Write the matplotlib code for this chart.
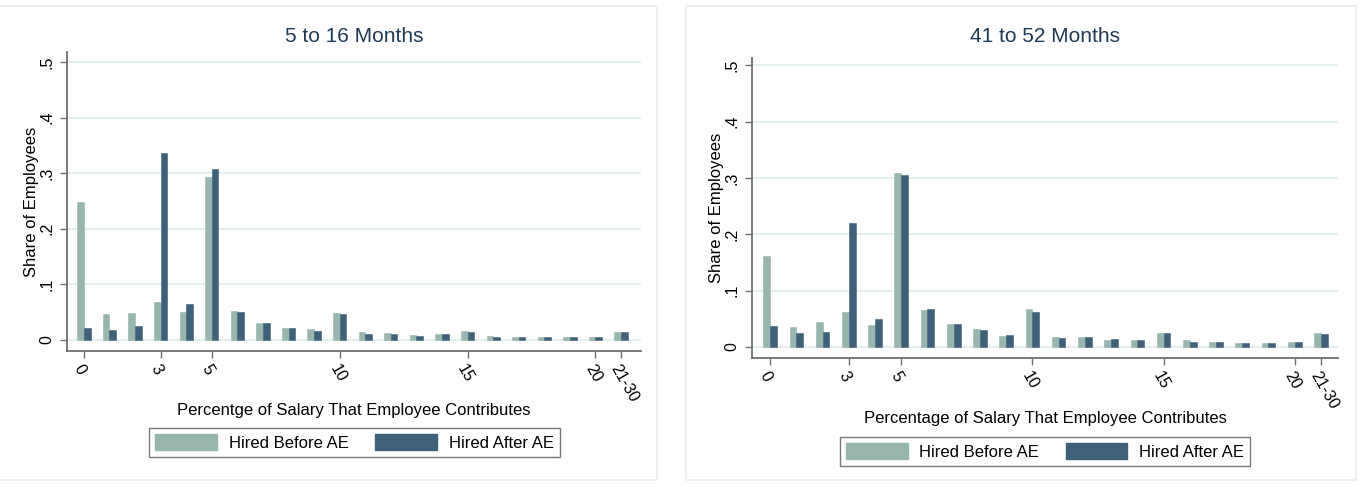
import matplotlib
matplotlib.use('Agg')
import matplotlib.pyplot as plt
import numpy as np
from matplotlib.patches import Rectangle, Patch

plt.rcParams['font.family'] = ['Liberation Sans', 'DejaVu Sans']

# categories: contribution rate 0..20 and a pooled 21-30 bin
categories = [str(i) for i in range(21)] + ['21-30']
tick_show = ['0', '3', '5', '10', '15', '20', '21-30']

# 5 to 16 months
early_before = [0.248, 0.047, 0.048, 0.069, 0.051, 0.293, 0.053, 0.031, 0.021, 0.019, 0.048,
                0.014, 0.013, 0.009, 0.011, 0.016, 0.008, 0.006, 0.005, 0.005, 0.005, 0.014]
early_after = [0.021, 0.018, 0.026, 0.337, 0.065, 0.308, 0.050, 0.031, 0.021, 0.017, 0.046,
               0.011, 0.011, 0.008, 0.010, 0.014, 0.006, 0.005, 0.005, 0.005, 0.005, 0.014]

# 41 to 52 months
late_before = [0.161, 0.036, 0.044, 0.062, 0.039, 0.308, 0.065, 0.041, 0.032, 0.020, 0.067,
               0.018, 0.017, 0.012, 0.0125, 0.024, 0.0125, 0.009, 0.007, 0.007, 0.009, 0.024]
late_after = [0.037, 0.024, 0.026, 0.220, 0.049, 0.306, 0.067, 0.041, 0.031, 0.021, 0.0625,
              0.016, 0.017, 0.014, 0.0125, 0.024, 0.009, 0.009, 0.007, 0.007, 0.009, 0.023]

c_before = '#98b5ae'
c_after = '#3e6079'
grid_c = '#e6eef1'
axis_c = '#6e6e6e'

W, H = 1363, 487
fig = plt.figure(figsize=(W / 100, H / 100), dpi=100)

# faint panel frames (two separate Stata graphs side by side)
for (x0, y0, x1, y1) in [(-2, 6, 657, 480), (686, 6, 1356, 480)]:
    fig.patches.append(Rectangle((x0 / W, 1 - y1 / H), (x1 - x0) / W, (y1 - y0) / H,
                                 transform=fig.transFigure, fill=False,
                                 edgecolor='#e8eef0', linewidth=1.2))


def px_axes(x0, x1, ytop, ybot):
    return fig.add_axes([x0 / W, 1 - ybot / H, (x1 - x0) / W, (ybot - ytop) / H])


def panel(ax, before, after, title, xlabel, xlim, ylim, title_y, xlabel_y, leg_x, leg_y):
    x = np.arange(len(categories))
    w = 0.26
    ax.bar(x - w / 2, before, width=w, color=c_before, edgecolor=c_before, linewidth=0.4)
    ax.bar(x + w / 2, after, width=w, color=c_after, edgecolor=c_after, linewidth=0.4)
    ax.set_xlim(*xlim)
    ax.set_ylim(*ylim)
    yt = [0, 0.1, 0.2, 0.3, 0.4, 0.5]
    ax.set_yticks(yt)
    ax.set_yticklabels(['0', '.1', '.2', '.3', '.4', '.5'], rotation=90, va='center', fontsize=11.5)
    for v in yt:
        ax.axhline(v, color=grid_c, linewidth=1.6, zorder=0)
    pos = [categories.index(t) for t in tick_show]
    ax.set_xticks(pos)
    ax.set_xticklabels(tick_show, rotation=-60, ha='left', va='top', rotation_mode='anchor',
                       fontsize=11.5)
    ax.tick_params(axis='both', color=axis_c, length=5, width=1)
    ax.tick_params(axis='y', pad=4)
    ax.tick_params(axis='x', pad=3)
    for s in ['top', 'right']:
        ax.spines[s].set_visible(False)
    for s in ['left', 'bottom']:
        ax.spines[s].set_color(axis_c)
        ax.spines[s].set_linewidth(1.3)
    ax.set_ylabel('Share of Employees', fontsize=12, labelpad=0)
    bb = ax.get_position()
    cx = (bb.x0 + bb.x1) / 2
    fig.text(cx, 1 - title_y / H, title, ha='center', va='center', fontsize=15, color='#1e3a56')
    fig.text(cx, 1 - xlabel_y / H, xlabel, ha='center', va='center', fontsize=12)
    handles = [Patch(facecolor=c_before, edgecolor=c_before, label='Hired Before AE'),
               Patch(facecolor=c_after, edgecolor=c_after, label='Hired After AE')]
    leg = fig.legend(handles=handles, loc='upper center', ncol=2,
                     bbox_to_anchor=(leg_x / W, 1 - leg_y / H), frameon=True, fancybox=False,
                     fontsize=12, handlelength=3.7, handleheight=1.1, columnspacing=1.6,
                     handletextpad=0.7, borderpad=0.38, borderaxespad=0)
    leg.get_frame().set_edgecolor('#555555')
    leg.get_frame().set_linewidth(1.0)


axL = px_axes(67, 641, 52, 351)
panel(axL, early_before, early_after, '5 to 16 Months',
      'Percentge of Salary That Employee Contributes',
      (-0.66, 21.78), (-0.0198, 0.518), 37, 411, 354.5, 428)

axR = px_axes(752, 1338, 58, 358)
panel(axR, late_before, late_after, '41 to 52 Months',
      'Percentage of Salary That Employee Contributes',
      (-0.69, 21.65), (-0.0195, 0.513), 37, 419, 1045, 437)

fig.savefig('out.png', dpi=100)
